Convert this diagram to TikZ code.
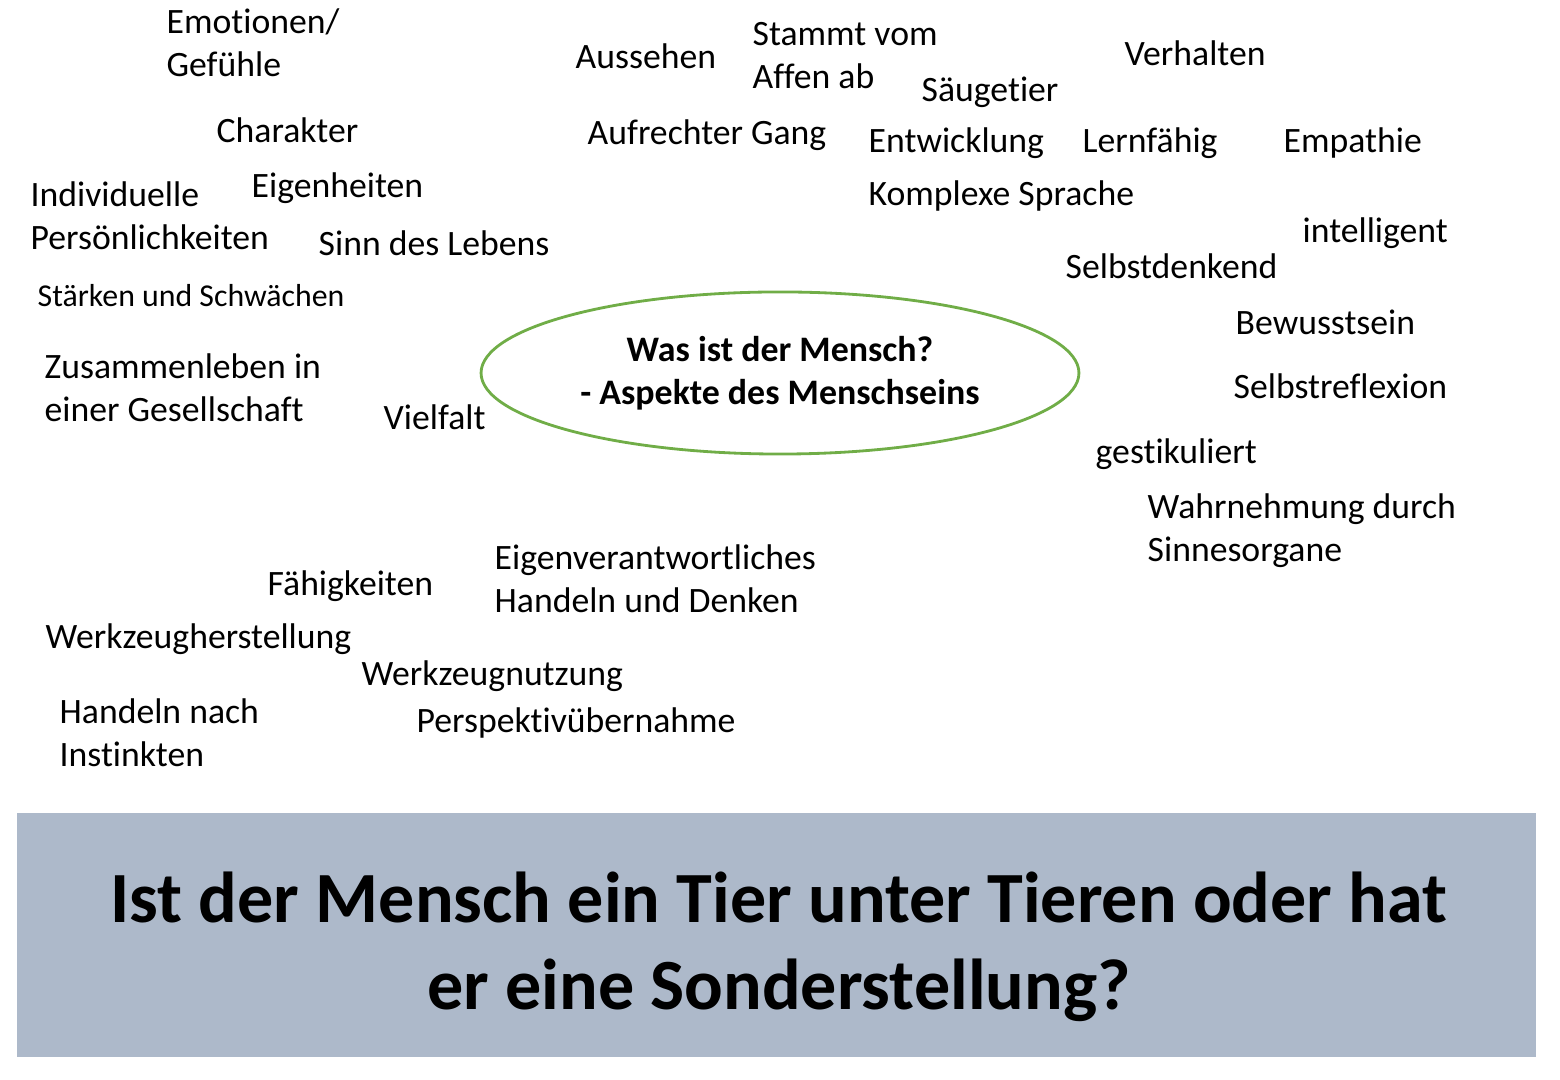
\documentclass[tikz,border=0pt]{standalone}
\usepackage{fontspec}
\setmainfont[Ligatures=NoCommon]{Carlito}
\usetikzlibrary{shapes.geometric}
\definecolor{ringgreen}{HTML}{70AD47}
\definecolor{boxgrey}{HTML}{ADB9CA}
\tikzstyle{aspect} =
[
	anchor=base west
	, inner sep=0pt
	, align=left
	, font=\fontsize{10.15}{12.35}\selectfont
]
\tikzstyle{smallaspect} =
[
	aspect
	, font=\fontsize{9.05}{11}\selectfont
]
\tikzstyle{centre} =
[
	ellipse
	, draw=ringgreen
	, line width=0.8pt
	, minimum width=5.93cm
	, minimum height=1.62cm
	, align=center
	, font=\bfseries\fontsize{10.2}{12.35}\selectfont
]
\tikzstyle{question} =
[
	align=center
	, inner sep=0pt
	, font=\bfseries\fontsize{20.5}{24.8}\selectfont
]

\begin{document}
\begin{tikzpicture}[x=0.01cm, y=-0.01cm]

\useasboundingbox (0,0) rectangle (1560,1080);

\node(centre)[centre] at (780,373){Was ist der Mensch?\\- Aspekte des Menschseins};

% left column
\node(emotion)[aspect] at (166,77){Emotionen/\\Gefühle};
\node(charakter)[aspect] at (216,143){Charakter};
\node(individuell)[aspect] at (30,250){Individuelle\\Persönlichkeiten};
\node(eigenheit)[aspect] at (251,198){Eigenheiten};
\node(sinn)[aspect] at (318,256){Sinn des Lebens};
\node(staerken)[smallaspect] at (37,307){Stärken und Schwächen};
\node(zusammen)[aspect] at (44,422){Zusammenleben in\\einer Gesellschaft};
\node(vielfalt)[aspect] at (383,430){Vielfalt};

% top middle
\node(aussehen)[aspect] at (575,69){Aussehen};
\node(affen)[aspect] at (752,89){Stammt vom\\Affen ab};
\node(saeuger)[aspect] at (921,102){Säugetier};
\node(verhalten)[aspect] at (1124,66){Verhalten};
\node(gang)[aspect] at (587,145){Aufrechter Gang};
\node(entwicklung)[aspect] at (868,153){Entwicklung};
\node(lernen)[aspect] at (1082,153){Lernfähig};
\node(empathie)[aspect] at (1283,153){Empathie};
\node(sprache)[aspect] at (868,206){Komplexe Sprache};

% right column
\node(intelligent)[aspect] at (1302,243){intelligent};
\node(denken)[aspect] at (1065,279){Selbstdenkend};
\node(bewusst)[aspect] at (1235,335){Bewusstsein};
\node(reflexion)[aspect] at (1233,399){Selbstreflexion};
\node(gestik)[aspect] at (1095,464){gestikuliert};
\node(sinne)[aspect] at (1147,562){Wahrnehmung durch\\Sinnesorgane};

% lower left
\node(faehig)[aspect] at (267,596){Fähigkeiten};
\node(verantwort)[aspect] at (494,613){Eigenverantwortliches\\Handeln und Denken};
\node(herstellung)[aspect] at (45,649){Werkzeugherstellung};
\node(nutzung)[aspect] at (361,686){Werkzeugnutzung};
\node(instinkt)[aspect] at (59,767){Handeln nach\\Instinkten};
\node(perspektive)[aspect] at (416,733){Perspektivübernahme};

% question box
\fill[boxgrey] (17,813) rectangle (1536,1057);
\node(frage)[question] at (779,947){Ist der Mensch ein Tier unter Tieren oder hat\\er eine Sonderstellung?};

\end{tikzpicture}
\end{document}
